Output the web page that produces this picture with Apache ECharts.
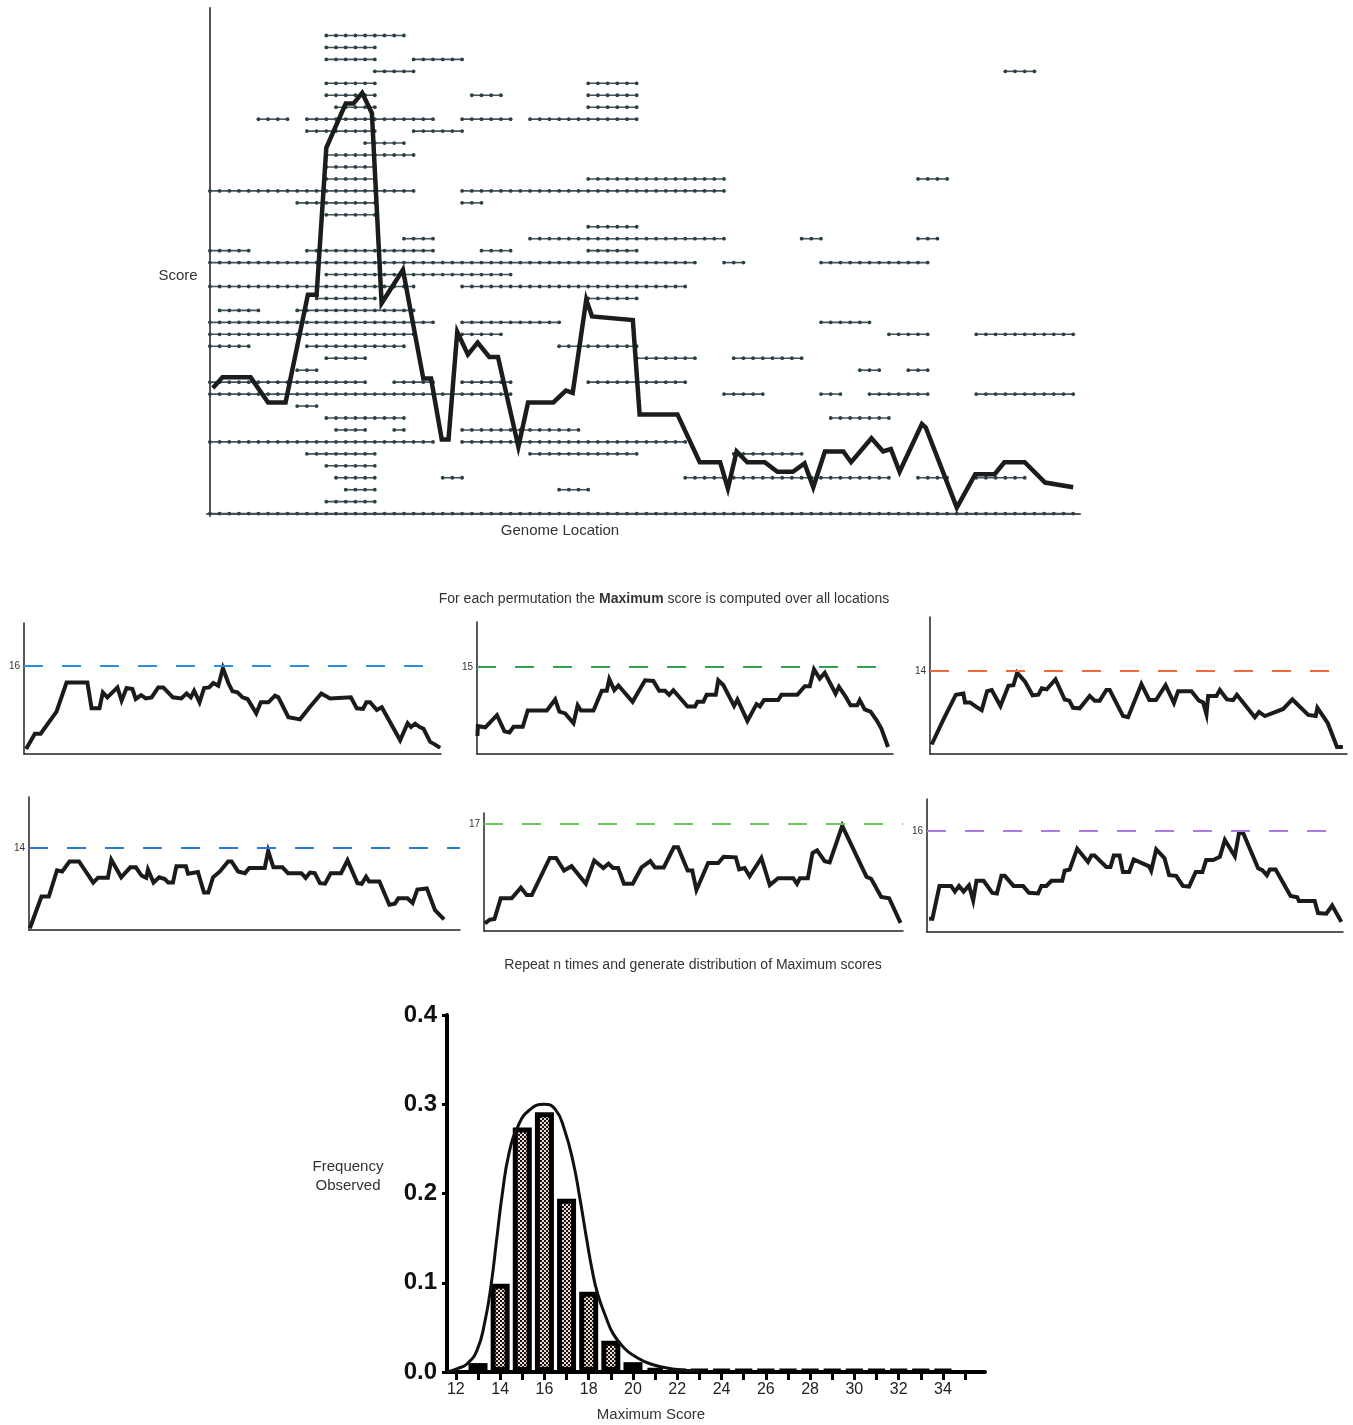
<!DOCTYPE html>
<html>
<head>
<meta charset="utf-8">
<script src="https://cdn.jsdelivr.net/npm/echarts@6/dist/echarts.min.js"></script>
<style>
  html, body { margin: 0; padding: 0; background: #fff; }
  #main { width: 1353px; height: 1425px; }
</style>
</head>
<body>
<div id="main"></div>
<script>
// ---- top panel: read segments as [row level, first position, last position]
const readSegments = [
  [40, 12, 20],
  [39, 12, 17],
  [38, 12, 17], [38, 21, 26],
  [37, 17, 21], [37, 82, 85],
  [36, 12, 17], [36, 39, 44],
  [35, 12, 17], [35, 27, 30], [35, 39, 44],
  [34, 13, 17], [34, 39, 44],
  [33, 5, 8], [33, 10, 23], [33, 26, 31], [33, 33, 44],
  [32, 10, 17], [32, 21, 26],
  [31, 16, 20],
  [30, 12, 21],
  [29, 12, 17],
  [28, 12, 17], [28, 39, 53], [28, 73, 76],
  [27, 0, 21], [27, 26, 53],
  [26, 9, 17], [26, 26, 28],
  [25, 12, 17],
  [24, 39, 44],
  [23, 20, 23], [23, 33, 53], [23, 61, 63], [23, 73, 75],
  [22, 0, 4], [22, 10, 23], [22, 28, 31], [22, 39, 44],
  [21, 0, 50], [21, 53, 55], [21, 63, 74],
  [20, 12, 31],
  [19, 0, 21], [19, 26, 49],
  [18, 11, 17], [18, 39, 44],
  [17, 1, 5], [17, 9, 21],
  [16, 0, 23], [16, 26, 36], [16, 63, 68],
  [15, 0, 21], [15, 26, 30], [15, 70, 74], [15, 79, 89],
  [14, 0, 4], [14, 10, 20], [14, 36, 44],
  [13, 12, 16], [13, 44, 50], [13, 54, 61],
  [12, 9, 11], [12, 67, 69], [12, 72, 74],
  [11, 0, 16], [11, 19, 23], [11, 26, 31], [11, 39, 49],
  [10, 0, 31], [10, 53, 57], [10, 63, 65], [10, 68, 74], [10, 79, 89],
  [9, 9, 11],
  [8, 12, 20], [8, 64, 70],
  [7, 13, 16], [7, 19, 20], [7, 26, 38],
  [6, 0, 23], [6, 26, 49],
  [5, 10, 17], [5, 33, 44], [5, 54, 61],
  [4, 12, 17],
  [3, 13, 17], [3, 24, 26], [3, 49, 53], [3, 54, 70], [3, 73, 76], [3, 79, 84],
  [2, 14, 17], [2, 36, 39],
  [1, 12, 17],
  [0, 0, 89]
];

// score along the genome (position, score)
const scoreLine = [
  [0.3, 10.5], [1.3, 11.4], [4.2, 11.4], [6.0, 9.3], [7.8, 9.3], [10.1, 18.3], [11.0, 18.3],
  [12.0, 30.6], [14.0, 34.3], [14.8, 34.3], [15.7, 35.2], [16.7, 33.5], [17.7, 17.6],
  [19.9, 20.4], [22.0, 11.3], [22.8, 11.3], [23.9, 6.2], [24.6, 6.2], [25.5, 15.2],
  [26.6, 13.3], [27.6, 14.3], [28.8, 13.1], [29.7, 13.1], [31.8, 5.6], [32.8, 9.3],
  [35.4, 9.3], [36.7, 10.3], [37.4, 10.1], [38.8, 17.9], [39.4, 16.5], [43.6, 16.2],
  [44.3, 8.3], [48.2, 8.3], [50.5, 4.3], [52.6, 4.3], [53.4, 2.1], [54.3, 5.2], [55.4, 4.3],
  [57.2, 4.3], [58.5, 3.5], [60.1, 3.5], [61.3, 4.2], [62.2, 2.2], [63.4, 5.2], [65.3, 5.2],
  [66.1, 4.3], [68.2, 6.3], [69.4, 5.2], [70.2, 5.4], [71.1, 3.5], [73.4, 7.5], [73.8, 7.2],
  [77.0, 0.5], [78.9, 3.3], [80.9, 3.3], [81.9, 4.3], [84.0, 4.3], [86.1, 2.6], [89.0, 2.2]
];

// ---- permutations: maximum score and score traces
const permMax = [16, 15, 14, 14, 17, 16];

const perm1 = [[0.5,0.9],[2.6,3.7],[4.0,3.7],[7.8,7.7],[10.2,13.0],[15.2,13.0],[16.2,8.3],[18.1,8.3],[18.9,11.2],[20.0,10.3],[22.4,12.1],[23.4,9.7],[24.6,12.0],[26.0,11.8],[26.8,10.0],[28.1,10.7],[29.2,10.1],[30.6,10.3],[32.2,12.1],[33.4,12.1],[35.7,10.3],[37.7,10.1],[39.0,11.0],[40.0,10.3],[40.8,11.5],[42.1,9.4],[43.2,12.0],[44.4,12.1],[45.4,12.9],[46.6,12.4],[47.7,15.6],[49.0,12.9],[50.0,11.4],[51.2,11.2],[52.4,10.3],[53.6,10.0],[55.7,7.4],[56.8,9.4],[58.6,9.4],[60.2,10.6],[61.0,10.3],[63.4,6.7],[66.2,6.3],[68.5,8.5],[71.3,11.0],[73.4,10.1],[78.4,10.3],[79.8,8.3],[81.3,8.2],[82.1,9.4],[83.0,9.4],[84.6,8.0],[85.8,8.5],[90.2,2.5],[92.0,5.6],[92.8,4.9],[93.8,5.5],[94.9,4.9],[95.8,4.6],[97.4,2.2],[98.4,1.8],[99.8,1.1]];
const perm2 = [[0.1,3.1],[0.2,4.8],[2.0,4.6],[4.8,6.7],[6.6,3.9],[7.8,3.7],[8.8,4.7],[11.0,4.7],[12.2,7.5],[16.8,7.5],[18.8,9.4],[19.8,7.3],[21.2,7.0],[23.2,5.3],[24.2,8.4],[25.0,7.5],[28.0,7.5],[30.0,10.9],[31.2,10.9],[31.8,12.9],[33.0,11.0],[34.0,11.8],[37.4,9.0],[40.4,12.7],[42.4,12.6],[43.8,10.9],[45.2,10.9],[46.2,10.2],[47.2,11.0],[50.6,8.2],[52.4,8.2],[53.0,9.0],[54.4,9.0],[55.2,10.2],[57.4,10.2],[58.0,12.7],[59.2,11.9],[61.8,8.3],[62.6,9.4],[65.0,5.7],[67.2,8.6],[68.0,8.2],[69.0,9.3],[72.4,9.3],[73.2,10.2],[77.0,10.2],[78.8,11.7],[80.0,11.7],[81.0,14.6],[82.4,13.0],[83.6,14.0],[86.2,10.4],[87.0,11.6],[88.6,9.9],[89.8,8.4],[91.4,8.4],[92.0,9.3],[93.2,7.7],[94.6,7.3],[96.0,5.9],[97.2,4.4],[98.8,1.2]];
const perm3 = [[0.4,1.6],[3.2,5.8],[6.2,10.0],[8.0,10.2],[8.4,8.7],[9.6,8.7],[11.2,7.9],[12.4,7.4],[13.7,10.6],[14.8,10.8],[16.9,8.1],[18.8,11.5],[20.0,11.6],[20.9,13.7],[22.8,12.2],[24.6,9.9],[26.0,10.0],[26.8,11.1],[28.0,10.9],[30.1,12.6],[32.3,9.2],[33.4,9.0],[34.3,7.8],[35.9,7.7],[38.3,9.8],[39.5,9.0],[40.7,9.0],[42.3,10.8],[43.1,10.8],[46.3,6.4],[47.5,6.2],[50.7,11.8],[52.6,9.1],[54.2,9.1],[56.5,11.6],[58.5,8.6],[59.5,10.6],[62.7,10.6],[64.5,9.0],[65.5,8.7],[66.3,6.7],[66.7,9.8],[68.7,9.8],[69.5,10.8],[71.2,9.2],[72.7,9.1],[73.6,10.0],[77.9,6.2],[78.9,7.1],[80.3,6.4],[84.7,7.6],[86.9,9.2],[90.7,6.6],[92.5,6.4],[92.9,7.8],[95.4,5.2],[97.6,1.2],[99.0,1.2]];
const perm4 = [[0.2,0.3],[2.9,5.7],[4.6,5.7],[6.5,10.2],[7.7,10.0],[9.4,11.7],[11.6,11.7],[14.9,8.1],[16.0,8.9],[18.3,8.9],[19.1,12.0],[21.4,9.0],[23.5,10.7],[24.8,10.7],[26.1,9.3],[27.2,8.9],[27.6,10.3],[28.9,8.1],[30.2,9.0],[31.5,8.7],[32.3,8.1],[33.4,8.1],[34.2,10.9],[36.4,10.9],[36.9,9.6],[39.2,9.9],[40.6,6.4],[41.6,6.4],[42.7,9.0],[44.3,10.0],[46.2,11.7],[47.0,11.7],[48.5,10.0],[50.1,9.7],[51.1,10.6],[54.7,10.6],[55.5,13.5],[56.7,10.7],[58.8,10.7],[60.1,9.7],[63.2,9.7],[64.2,8.9],[65.2,9.8],[66.3,9.7],[67.5,8.0],[68.7,7.9],[70.0,9.7],[72.4,9.7],[73.9,11.9],[76.2,8.0],[77.2,7.9],[78.2,9.1],[78.9,8.3],[81.3,8.3],[83.6,4.3],[84.9,4.5],[85.7,5.4],[87.8,5.4],[89.0,4.6],[90.1,6.9],[92.3,7.1],[94.2,3.4],[96.3,1.8]];
const perm5 = [[0.2,1.2],[1.4,1.8],[2.5,1.9],[4.0,5.2],[6.6,5.2],[8.8,6.9],[10.2,5.7],[11.4,5.7],[15.7,11.6],[17.2,11.6],[19.1,9.6],[20.9,10.3],[24.3,7.5],[26.3,11.2],[28.5,10.0],[29.7,10.7],[30.8,10.0],[32.0,10.0],[33.4,7.5],[35.5,7.5],[37.6,10.1],[39.7,11.1],[40.8,10.1],[42.9,10.1],[45.3,13.3],[46.3,13.3],[48.6,9.6],[49.7,9.6],[50.7,6.5],[53.5,10.8],[55.9,10.8],[57.2,11.8],[60.1,11.7],[60.9,9.8],[62.2,10.0],[63.4,8.7],[66.2,11.6],[68.2,7.3],[70.2,8.4],[73.8,8.4],[74.7,7.5],[75.4,8.4],[77.3,8.4],[78.4,12.4],[79.5,12.8],[81.3,11.1],[82.5,10.9],[85.5,16.7],[91.3,8.6],[92.4,8.3],[94.8,5.4],[96.7,5.2],[99.4,1.3]];
const perm6 = [[0.5,2.1],[1.3,2.1],[3.0,7.3],[5.8,7.3],[6.7,6.4],[7.7,7.3],[8.8,6.4],[10.1,7.4],[11.1,5.0],[11.9,8.1],[13.6,8.1],[15.7,6.2],[16.8,6.1],[17.9,8.9],[18.7,8.9],[20.8,7.3],[23.1,7.3],[24.5,6.2],[26.7,6.1],[27.5,7.3],[28.7,7.3],[29.9,8.1],[32.5,8.1],[33.1,9.7],[34.3,9.9],[36.1,13.2],[38.7,11.1],[39.5,12.1],[40.3,12.1],[43.1,10.3],[44.1,10.3],[44.9,12.1],[46.3,12.1],[47.1,9.5],[48.6,9.5],[49.7,11.5],[53.4,10.4],[53.9,9.7],[55.1,13.1],[57.1,11.7],[58.2,9.0],[59.9,8.9],[61.5,7.3],[63.0,7.2],[64.6,9.5],[66.2,9.5],[67.1,11.4],[68.8,11.4],[70.4,11.9],[71.6,14.6],[74.0,12.0],[75.0,15.7],[76.0,15.7],[79.6,10.1],[80.6,9.8],[81.7,9.0],[82.4,9.9],[83.8,9.9],[87.4,5.7],[89.0,5.5],[89.4,4.9],[93.2,4.9],[94.0,3.0],[96.0,2.9],[97.4,4.2],[99.6,1.6]];
const permTraces = [perm1, perm2, perm3, perm4, perm5, perm6];

// ---- distribution of maximum scores
const histScores = [13, 14, 15, 16, 17, 18, 19, 20, 21, 22, 23, 24, 25, 26, 27, 28, 29, 30, 31, 32, 33, 34];
const histFreq = [0.010, 0.099, 0.274, 0.291, 0.194, 0.090, 0.035, 0.011, 0.004, 0.002, 0.002, 0.002, 0.002, 0.002, 0.002, 0.002, 0.002, 0.002, 0.002, 0.002, 0.002, 0.002];
const fitCurve = [
  [11.6, 0.0], [12.1, 0.004], [12.5, 0.009], [12.95, 0.024], [13.3, 0.055], [13.6, 0.099],
  [13.85, 0.15], [14.1, 0.2], [14.4, 0.245], [14.8, 0.275], [15.3, 0.293], [16.0, 0.300],
  [16.5, 0.294], [16.9, 0.272], [17.3, 0.235], [17.6, 0.195], [17.9, 0.15], [18.15, 0.115],
  [18.4, 0.088], [18.8, 0.06], [19.1, 0.043], [19.6, 0.027], [20.0, 0.019], [20.8, 0.009],
  [21.9, 0.003], [23.0, 0.001]
];
const scoreTicks = [12, 13, 14, 15, 16, 17, 18, 19, 20, 21, 22, 23, 24, 25, 26, 27, 28, 29, 30, 31, 32, 33, 34, 35];
const scoreLabels = [12, 14, 16, 18, 20, 22, 24, 26, 28, 30, 32, 34];

// layout of the six small panels: left, top, width, height, y of the dashed max line
const panelBoxes = [
  [24, 623, 417, 131, 666],
  [477, 622, 416, 132, 667],
  [930, 617, 417, 137, 671],
  [29, 797, 431, 133, 848],
  [484, 813, 419, 118, 824],
  [927, 799, 416, 133, 831]
];
const panelColors = ['#2f8fde', '#33a04a', '#f06a3c', '#2a7ad6', '#6cc860', '#ad7be0'];

const FONT = '"Liberation Sans", Arial, sans-serif';

// checker pattern for the histogram bars
const pat = document.createElement('canvas');
pat.width = 4; pat.height = 4;
const pc = pat.getContext('2d');
pc.fillStyle = '#efd6ce'; pc.fillRect(0, 0, 4, 4);
pc.fillStyle = '#161616'; pc.fillRect(0, 0, 2, 2); pc.fillRect(2, 2, 2, 2);

function renderSegment(params, api) {
  const s = api.value(0), e = api.value(1), lv = api.value(2);
  const a = api.coord([s, lv]), b = api.coord([e, lv]);
  const kids = [{
    type: 'line',
    shape: { x1: a[0], y1: a[1], x2: b[0], y2: b[1] },
    style: { stroke: '#41565b', lineWidth: 1.6 }
  }];
  for (let i = s; i <= e; i++) {
    const p = api.coord([i, lv]);
    kids.push({ type: 'circle', shape: { cx: p[0], cy: p[1], r: 1.9 }, style: { fill: '#2c3f44' } });
  }
  return { type: 'group', children: kids };
}

const grids = [{ left: 207, top: 8, width: 873, height: 508 }];
const xAxes = [{
  gridIndex: 0, type: 'value', min: -0.3, max: 89.7,
  axisLine: { show: true, lineStyle: { color: '#555', width: 2 } },
  axisTick: { show: false }, axisLabel: { show: false }, splitLine: { show: false }
}];
const yAxes = [{
  gridIndex: 0, type: 'value', min: -0.2, max: 42.3,
  axisLine: { show: true, lineStyle: { color: '#555', width: 2 } },
  axisTick: { show: false }, axisLabel: { show: false }, splitLine: { show: false }
}];
const series = [
  {
    type: 'custom', xAxisIndex: 0, yAxisIndex: 0, z: 2,
    renderItem: renderSegment,
    encode: { x: [0, 1], y: 2 },
    data: readSegments.map(d => [d[1], d[2], d[0]])
  },
  {
    type: 'line', xAxisIndex: 0, yAxisIndex: 0, z: 5,
    data: scoreLine, showSymbol: false,
    lineStyle: { color: '#1c1c1c', width: 4.5, join: 'miter' }
  }
];

panelBoxes.forEach((b, i) => {
  const [left, top, width, height, dashY] = b;
  const bottom = top + height;
  const yMax = permMax[i] * height / (bottom - dashY);
  grids.push({ left, top, width, height });
  const gi = grids.length - 1;
  xAxes.push({
    gridIndex: gi, type: 'value', min: 0, max: 100,
    axisLine: { show: true, lineStyle: { color: '#222', width: 1.5 } },
    axisTick: { show: false }, axisLabel: { show: false }, splitLine: { show: false }
  });
  yAxes.push({
    gridIndex: gi, type: 'value', min: 0, max: yMax,
    axisLine: { show: true, lineStyle: { color: '#222', width: 1.5 } },
    axisTick: { show: false }, splitLine: { show: false },
    axisLabel: { customValues: [permMax[i]], fontSize: 10, color: '#333', margin: 4, fontFamily: FONT }
  });
  series.push({
    type: 'line', xAxisIndex: gi, yAxisIndex: gi,
    data: permTraces[i], showSymbol: false,
    lineStyle: { color: '#1b1b1b', width: 4, join: 'miter' },
    markLine: {
      silent: true, symbol: 'none', label: { show: false },
      lineStyle: { color: panelColors[i], width: 2, type: [19, 19] },
      data: [{ yAxis: permMax[i] }]
    }
  });
});

// histogram
grids.push({ left: 447, top: 1015, width: 538, height: 357 });
const hi = grids.length - 1;
xAxes.push({
  gridIndex: hi, type: 'value', min: 11.6, max: 35.9,
  axisLine: { show: true, lineStyle: { color: '#000', width: 4 } },
  axisTick: { show: true, customValues: scoreTicks, length: 8, lineStyle: { color: '#000', width: 3 } },
  axisLabel: { customValues: scoreLabels, fontSize: 16, color: '#222', margin: 10, fontFamily: FONT },
  splitLine: { show: false }
});
yAxes.push({
  gridIndex: hi, type: 'value', min: 0, max: 0.4, interval: 0.1,
  axisLine: { show: true, lineStyle: { color: '#000', width: 4 } },
  axisTick: { show: true, length: 5, lineStyle: { color: '#000', width: 3 } },
  axisLabel: { fontSize: 24, fontWeight: 'bold', color: '#111', margin: 10, fontFamily: FONT,
               formatter: v => v.toFixed(1) },
  splitLine: { show: false }
});
series.push({
  type: 'bar', xAxisIndex: hi, yAxisIndex: hi, barWidth: 19,
  data: histScores.map((s, i) => [s, histFreq[i]]),
  itemStyle: { color: { image: pat, repeat: 'repeat' }, borderColor: '#000', borderWidth: 5 }
});
series.push({
  type: 'line', xAxisIndex: hi, yAxisIndex: hi, smooth: true, showSymbol: false, z: 5,
  data: fitCurve, lineStyle: { color: '#111', width: 3 }
});

const txt = (x, y, text, size, extra) => ({
  type: 'text', x, y,
  style: Object.assign({ text, fontSize: size, fontFamily: FONT, fill: '#333',
                         textAlign: 'center', textVerticalAlign: 'middle' }, extra || {})
});

const chart = echarts.init(document.getElementById('main'), null, { renderer: 'canvas' });
chart.setOption({
  backgroundColor: '#fff',
  animation: false,
  grid: grids,
  xAxis: xAxes,
  yAxis: yAxes,
  series: series,
  graphic: [
    txt(178, 276, 'Score', 15),
    txt(560, 531, 'Genome Location', 15),
    txt(664, 599, 'For each permutation the {b|Maximum} score is computed over all locations', 14,
        { rich: { b: { fontWeight: 'bold', fontSize: 14, fontFamily: FONT, fill: '#333' } } }),
    txt(693, 965, 'Repeat n times and generate distribution of Maximum scores', 14),
    txt(348, 1176, 'Frequency\nObserved', 15, { lineHeight: 19 }),
    txt(651, 1415, 'Maximum Score', 15)
  ]
});
</script>
</body>
</html>
